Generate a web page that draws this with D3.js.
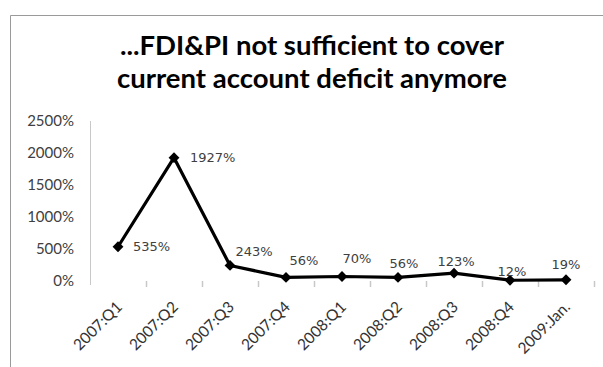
<!DOCTYPE html>
<html>
<head>
<meta charset="utf-8">
<script src="https://cdn.jsdelivr.net/npm/d3@7"></script>
<style>
  html, body { margin: 0; padding: 0; background: #fff; }
  svg { display: block; }
</style>
</head>
<body>
<svg id="chart" width="603" height="367"></svg>
<script>
// Coverage ratio of FDI + portfolio inflows to the current account deficit
const categories = ["2007:Q1", "2007:Q2", "2007:Q3", "2007:Q4", "2008:Q1", "2008:Q2", "2008:Q3", "2008:Q4", "2009:Jan."];
const coverage = [535, 1927, 243, 56, 70, 56, 123, 12, 19];
const yTicks = [0, 500, 1000, 1500, 2000, 2500];
const titleLines = ["...FDI&PI not sufficient to cover", "current account deficit anymore"];

// label nudges (px) relative to each marker: [dx, dy, anchor]
const labelNudge = [
  [15, 0, "start"], [16, 0, "start"], [24, -14, "middle"], [18, -17, "middle"],
  [15, -18, "middle"], [6, -14, "middle"], [2, -12, "middle"], [2, -9, "middle"], [0, -15, "middle"]
];

const svg = d3.select("#chart");
const W = 603, H = 367;
const plot = { left: 90, right: 594, top: 121, bottom: 281 };

// chart frame
svg.append("path")
  .attr("d", `M10.5,${H} L10.5,15.5 L${W},15.5`)
  .attr("fill", "none").attr("stroke", "#9a9a9a").attr("stroke-width", 1);

// title
const title = svg.append("text")
  .attr("text-anchor", "middle")
  .attr("font-family", "Lato, 'Open Sans', sans-serif")
  .attr("font-weight", "bold")
  .attr("font-size", 27.5)
  .attr("fill", "#000");
titleLines.forEach((t, i) => {
  title.append("tspan").attr("x", 312).attr("y", 55 + i * 33).text(t);
});

const x = d3.scaleBand().domain(categories).range([plot.left, plot.right]).padding(0);
const y = d3.scaleLinear().domain([0, 2500]).range([plot.bottom, plot.top]);

// y axis
const yAxis = svg.append("g")
  .attr("transform", `translate(${plot.left},0)`)
  .call(d3.axisLeft(y).tickValues(yTicks).tickSize(0).tickPadding(16).tickFormat(d => d + "%"));
yAxis.select(".domain").attr("stroke", "#c8c8c8").attr("d", `M0.5,${plot.top} V${plot.bottom + 4}`);
yAxis.selectAll("text")
  .attr("font-family", "Lato, sans-serif").attr("font-size", 15).attr("fill", "#404040");

// x axis: tick marks at category boundaries, no baseline
const xAxis = svg.append("g").attr("transform", `translate(0,${plot.bottom})`);
const edges = categories.map(c => x(c) + x.bandwidth());
xAxis.selectAll("line.tick")
  .data(edges)
  .join("line")
  .attr("class", "tick")
  .attr("x1", d => Math.round(d) + 0.5).attr("x2", d => Math.round(d) + 0.5)
  .attr("y1", 0).attr("y2", 6)
  .attr("stroke", "#c8c8c8").attr("stroke-width", 1.5);
xAxis.selectAll("text")
  .data(categories)
  .join("text")
  .attr("transform", d => `translate(${x(d) + x.bandwidth() / 2 + 5},${27}) rotate(-45)`)
  .attr("text-anchor", "end")
  .attr("font-family", "Lato, sans-serif")
  .attr("font-size", 15.5)
  .attr("fill", "#333")
  .text(d => d);

const cx = (d, i) => x(categories[i]) + x.bandwidth() / 2;

// series line
const line = d3.line().x((d, i) => cx(d, i)).y(d => y(d));
svg.append("path")
  .datum(coverage)
  .attr("d", line)
  .attr("fill", "none")
  .attr("stroke", "#000")
  .attr("stroke-width", 3.2)
  .attr("stroke-linejoin", "round");

// diamond markers
svg.selectAll("path.marker")
  .data(coverage)
  .join("path")
  .attr("class", "marker")
  .attr("d", d3.symbol().type(d3.symbolDiamond2).size(75))
  .attr("transform", (d, i) => `translate(${cx(d, i)},${y(d)})`)
  .attr("fill", "#000");

// value labels
svg.selectAll("text.value")
  .data(coverage)
  .join("text")
  .attr("class", "value")
  .attr("x", (d, i) => cx(d, i) + labelNudge[i][0])
  .attr("y", (d, i) => y(d) + labelNudge[i][1])
  .attr("dy", "0.35em")
  .attr("text-anchor", (d, i) => labelNudge[i][2])
  .attr("font-family", "'DejaVu Sans', Verdana, sans-serif")
  .attr("font-size", 13)
  .attr("fill", "#404040")
  .text(d => d + "%");
</script>
</body>
</html>
